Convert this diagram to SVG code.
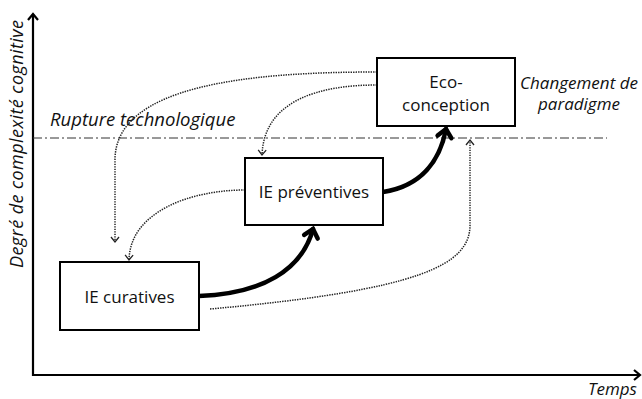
<svg xmlns="http://www.w3.org/2000/svg" width="642" height="399" viewBox="0 0 642 399">
<style>
.box{fill:#fff;stroke:#000;stroke-width:2}
.lbl{font-family:"Open Sans","Liberation Sans",sans-serif;font-size:17px;fill:#111;text-anchor:middle}
.it{font-family:"Open Sans","Liberation Sans",sans-serif;font-size:17px;font-style:italic;fill:#111}
.thick{fill:none;stroke:#000;stroke-width:4.5;stroke-linecap:round}
.dot{fill:none;stroke:#222;stroke-width:1.5;stroke-dasharray:1.4 1.1}
.axis{fill:none;stroke:#000;stroke-width:2.2}
.dashdot{fill:none;stroke:#333;stroke-width:1;stroke-dasharray:9 3 2 3}
</style>
<defs>
<marker id="thickHead" markerUnits="userSpaceOnUse" markerWidth="24" markerHeight="24" viewBox="-12 -12 24 24" refX="0" refY="0" orient="auto">
<path d="M-8,-7 L0,0 L-8,7" fill="none" stroke="#000" stroke-width="4.5" stroke-linecap="round" stroke-linejoin="miter"/>
</marker>
<marker id="dotHead" markerUnits="userSpaceOnUse" markerWidth="12" markerHeight="12" viewBox="-6 -6 12 12" refX="0" refY="0" orient="auto">
<path d="M-5,-4 L0,0 L-5,4" fill="none" stroke="#222" stroke-width="1.3"/>
</marker>
<marker id="axisHead" markerUnits="userSpaceOnUse" markerWidth="16" markerHeight="16" viewBox="-8 -8 16 16" refX="0" refY="0" orient="auto">
<path d="M-6,-5 L0,0 L-6,5" fill="none" stroke="#000" stroke-width="2.2"/>
</marker>
</defs>
<rect width="642" height="399" fill="#fff"/>
<g id="axes">
<path class="axis" d="M33,376 L33,14" marker-end="url(#axisHead)"/>
<path class="axis" d="M32,375 L640,375" marker-end="url(#axisHead)"/>
<text class="it" transform="translate(23,268) rotate(-90)" style="font-size:18px" textLength="248" lengthAdjust="spacing">Degré de complexité cognitive</text>
<text class="it" x="588" y="395">Temps</text>
</g>
<g id="rupture">
<path class="dashdot" d="M33,138 L607,138"/>
<text class="it" x="50" y="126" style="font-size:18.5px">Rupture technologique</text>
</g>
<g id="paradigme">
<text class="it" x="579" y="89" text-anchor="middle">Changement de</text>
<text class="it" x="579" y="110" text-anchor="middle">paradigme</text>
</g>
<g id="connectors">
<path class="thick" d="M199,296 C262,294 302,270 313,229" marker-end="url(#thickHead)"/>
<path class="thick" d="M383,192 C422,186 440,160 446,129" marker-end="url(#thickHead)"/>
<path class="dot" d="M377,72 C250,72 115,85 115,160 L115,242" marker-end="url(#dotHead)"/>
<path class="dot" d="M377,85 C320,85 264,100 262,155" marker-end="url(#dotHead)"/>
<path class="dot" d="M245,190 C190,190 130,212 129,260" marker-end="url(#dotHead)"/>
<path class="dot" d="M210,309 C420,290 470,265 470,225 L470,140" marker-end="url(#dotHead)"/>
</g>
<g id="eco">
<rect class="box" x="377" y="58" width="138" height="68"/>
<text class="lbl" x="446" y="88">Eco-</text>
<text class="lbl" x="446" y="111">conception</text>
</g>
<g id="preventives">
<rect class="box" x="245" y="158" width="138" height="67"/>
<text class="lbl" x="314" y="198">IE préventives</text>
</g>
<g id="curatives">
<rect class="box" x="60" y="262" width="139" height="68"/>
<text class="lbl" x="129.5" y="303">IE curatives</text>
</g>
</svg>
